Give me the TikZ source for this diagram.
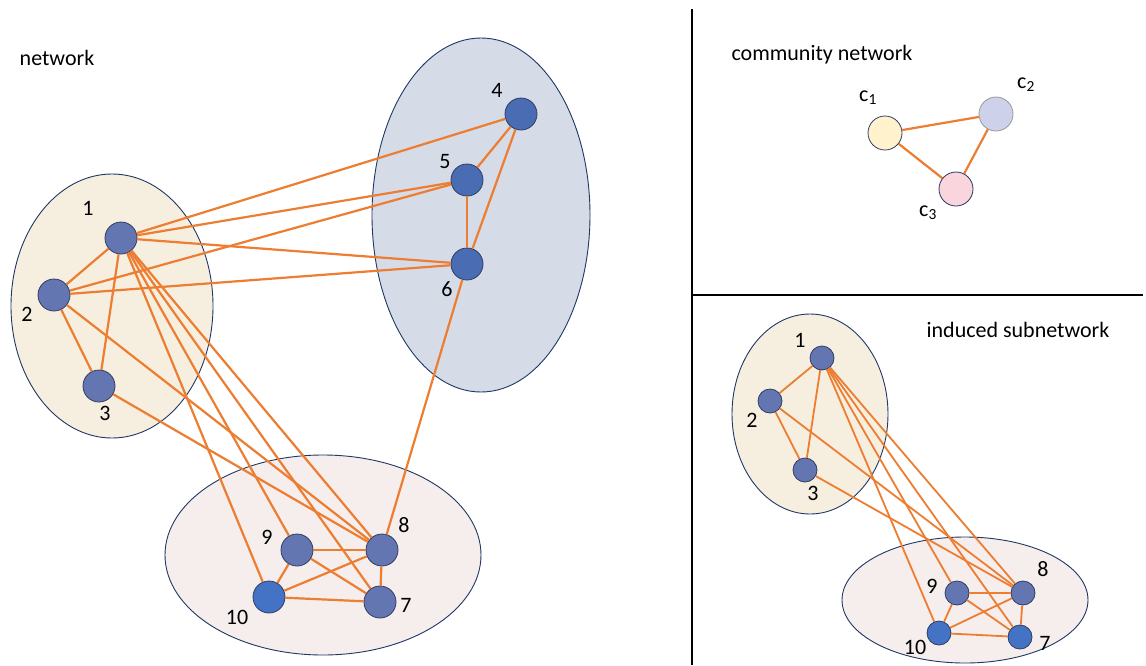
\documentclass[tikz,border=0pt]{standalone}
\usepackage{fontspec}
\setmainfont{Carlito}
\begin{document}
\begin{tikzpicture}[x=1pt,y=-1pt,
  grp/.style={draw=grpline,line width=0.9pt},
  vtx/.style={circle,draw=vline,line width=0.8pt,fill=vmuted,minimum size=32pt,inner sep=0pt},
  svtx/.style={circle,draw=vline,line width=0.8pt,fill=vmuted,minimum size=24pt,inner sep=0pt},
  cvtx/.style={circle,draw=vline,line width=0.8pt,minimum size=34pt,inner sep=0pt},
  lbl/.style={font=\fontsize{22}{26}\selectfont,inner sep=0pt},
  ttl/.style={font=\fontsize{22}{26}\selectfont,inner sep=0pt},
  edge/.style={draw=eorange,line width=2.2pt},
  sedge/.style={draw=eorange,line width=1.8pt},
  sep/.style={draw=black,line width=2.8pt}]
\definecolor{grpline}{HTML}{1F3864}
\definecolor{vline}{HTML}{2F3D62}
\definecolor{vmuted}{HTML}{6476B1}
\definecolor{vbright}{HTML}{4472C4}
\definecolor{vmid}{HTML}{4A6CB3}
\definecolor{eorange}{HTML}{ED7D31}
\definecolor{gA}{HTML}{F6EFDF}
\definecolor{gB}{HTML}{D6DBE8}
\definecolor{gC}{HTML}{F6EDED}
\definecolor{cA}{HTML}{FFF2CC}
\definecolor{cB}{HTML}{CDD2EA}
\definecolor{cC}{HTML}{FBD5DD}
\useasboundingbox[fill=white] (0,0) rectangle (1146,665);

% separators
\coordinate (sv1) at (692,9);
\coordinate (sv2) at (692,665);
\coordinate (sh1) at (692,295);
\coordinate (sh2) at (1143,295);
\draw[sep] (sv1) -- (sv2);
\draw[sep] (sh1) -- (sh2);

% titles
\node[ttl] (tnet) at (57,58) {network};
\node[ttl] (tcom) at (822,55) {community network};
\node[ttl] (tind) at (1018,330) {induced subnetwork};

% main network groups
\draw[grp,fill=gA] (112,306) ellipse [x radius=101, y radius=132];
\draw[grp,fill=gB] (481,215) ellipse [x radius=109, y radius=177];
\draw[grp,fill=gC] (323,555) ellipse [x radius=158, y radius=100];

% main network nodes
\node[vtx] (n1) at (121,238) {};
\node[vtx] (n2) at (54,295) {};
\node[vtx] (n3) at (99,386) {};
\node[vtx,fill=vmid] (n4) at (521,114) {};
\node[vtx,fill=vmid] (n5) at (467,180) {};
\node[vtx,fill=vmid] (n6) at (467,264) {};
\node[vtx] (n7) at (380,602) {};
\node[vtx] (n8) at (382,550) {};
\node[vtx] (n9) at (297,550) {};
\node[vtx,fill=vbright] (n10) at (269,597) {};

\foreach \a/\b in {1/2,1/3,2/3,1/4,1/5,1/6,2/5,2/6,4/5,4/6,5/6,6/8,1/10,1/9,1/8,1/7,2/8,3/8,9/8,9/10,9/7,10/8,10/7,8/7}
  \draw[edge] (n\a) -- (n\b);

\node[lbl] (l1) at (88,208) {1};
\node[lbl] (l2) at (27,314) {2};
\node[lbl] (l3) at (105,413) {3};
\node[lbl] (l4) at (497,90) {4};
\node[lbl] (l5) at (445,162) {5};
\node[lbl] (l6) at (447,289) {6};
\node[lbl] (l7) at (406,605) {7};
\node[lbl] (l8) at (404,525) {8};
\node[lbl] (l9) at (267,537) {9};
\node[lbl] (l10) at (237,617) {10};

% community network
\node[cvtx,fill=cA] (c1) at (885,133) {};
\node[cvtx,fill=cB,draw=gray!80] (c2) at (996,114) {};
\node[cvtx,fill=cC,draw=grpline] (c3) at (956,189) {};
\draw[edge] (c1) -- (c2);
\draw[edge] (c1) -- (c3);
\draw[edge] (c2) -- (c3);
\node[lbl] (lc1) at (868,98) {c\textsubscript{1}};
\node[lbl] (lc2) at (1026,85) {c\textsubscript{2}};
\node[lbl] (lc3) at (928,213) {c\textsubscript{3}};

% induced subnetwork
\draw[grp,fill=gA] (810,414) ellipse [x radius=78, y radius=100];
\draw[grp,fill=gC] (965,600) ellipse [x radius=123, y radius=63];

\node[svtx] (m1) at (822,358) {};
\node[svtx] (m2) at (770,401) {};
\node[svtx] (m3) at (805,470) {};
\node[svtx,fill=vbright] (m7) at (1020,637) {};
\node[svtx] (m8) at (1023,593) {};
\node[svtx] (m9) at (957,593) {};
\node[svtx,fill=vbright] (m10) at (939,633) {};

\foreach \a/\b in {1/2,1/3,2/3,1/10,1/9,1/8,1/7,2/8,3/8,9/8,9/10,9/7,10/8,10/7,8/7}
  \draw[sedge] (m\a) -- (m\b);

\node[lbl] (k1) at (800,340) {1};
\node[lbl] (k2) at (752,420) {2};
\node[lbl] (k3) at (813,493) {3};
\node[lbl] (k7) at (1045,643) {7};
\node[lbl] (k8) at (1043,569) {8};
\node[lbl] (k9) at (932,586) {9};
\node[lbl] (k10) at (915,647) {10};
\end{tikzpicture}
\end{document}
